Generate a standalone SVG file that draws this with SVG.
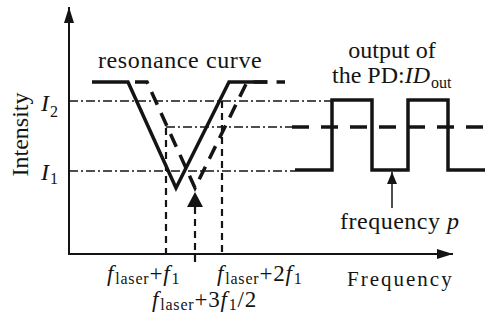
<svg xmlns="http://www.w3.org/2000/svg" width="485" height="325" viewBox="0 0 485 325">
<style>
.ln{fill:none;stroke:#141414;stroke-linejoin:miter}
.axis{stroke-width:2}
.solid{stroke-width:3.5}
.dash{stroke-width:3.5;stroke-dasharray:14 9}
.vdash{stroke-width:2.2;stroke-dasharray:7 5}
.dd{stroke-width:1.5;stroke-dasharray:9 3 2 3}
.thin{stroke-width:1.5}
.lbl{font-family:'Liberation Serif',serif;fill:#141414}
.t24{font-size:24px}
.t22{font-size:23px;letter-spacing:0.8px}
.it{font-style:italic}
.sub{font-size:16px;font-style:normal}
</style>
<defs>
<marker id="ah" viewBox="0 0 16 10" refX="16" refY="5" markerWidth="16" markerHeight="10" markerUnits="userSpaceOnUse" orient="auto">
<path d="M0,0 L16,5 L0,10 Z" fill="#141414"/>
</marker>
<marker id="ah2" viewBox="0 0 15 16" refX="15" refY="8" markerWidth="15" markerHeight="16" markerUnits="userSpaceOnUse" orient="auto">
<path d="M0,0 L15,8 L0,16 Z" fill="#141414"/>
</marker>
<marker id="ah3" viewBox="0 0 12 10" refX="12" refY="5" markerWidth="12" markerHeight="10" markerUnits="userSpaceOnUse" orient="auto">
<path d="M0,0 L12,5 L0,10 Z" fill="#141414"/>
</marker>
</defs>
<g id="guides">
<line class="ln dd" x1="69" y1="101" x2="332" y2="101"/>
<line class="ln dd" x1="69" y1="171" x2="295" y2="171"/>
<line class="ln dd" x1="166" y1="127" x2="292" y2="127"/>
<line class="ln dash" x1="292" y1="127" x2="485" y2="127" style="stroke-dasharray:17 12"/>
<line class="ln vdash" x1="166" y1="128" x2="166" y2="254"/>
<line class="ln vdash" x1="222" y1="101" x2="222" y2="254"/>
</g>
<g id="axes">
<line class="ln axis" x1="69" y1="254" x2="69" y2="7" marker-end="url(#ah)"/>
<line class="ln axis" x1="68" y1="254" x2="453" y2="254" marker-end="url(#ah)"/>
</g>
<g id="resonance-curve">
<polyline class="ln solid" points="92,82 128,82 176,188 229,82 267,82"/>
<polyline class="ln dash" points="135,82 147,82 195,188 247,82 285,82"/>
</g>
<g id="pd-output">
<polyline class="ln solid" points="295,170 332,170 332,100 372,100 372,170 408,170 408,100 448,100 448,170 485,170"/>
</g>
<g id="connectors">
<line class="ln vdash" x1="195" y1="262" x2="195" y2="192" marker-end="url(#ah2)"/>
<line class="ln thin" x1="392" y1="208" x2="392" y2="172" marker-end="url(#ah3)"/>
</g>
<g id="labels" font-family="Liberation Serif, serif">
<text class="lbl t24" transform="translate(28,134.5) rotate(-90)" text-anchor="middle">Intensity</text>
<text class="lbl t24 it" x="41" y="111">I<tspan class="sub" dx="1" dy="6">2</tspan></text>
<text class="lbl t24 it" x="41" y="180">I<tspan class="sub" dx="1" dy="4">1</tspan></text>
<text class="lbl t24" x="98" y="68" style="letter-spacing:0.6px">resonance curve</text>
<text class="lbl t24" x="392" y="58" text-anchor="middle">output of</text>
<text class="lbl t24" x="332" y="83">the PD:<tspan class="it">ID</tspan><tspan class="sub" dx="1" dy="5">out</tspan></text>
<text class="lbl t24" x="340" y="229" style="letter-spacing:0.5px">frequency <tspan class="it">p</tspan></text>
<text class="lbl" x="347" y="286" style="font-size:21px;letter-spacing:2px">Frequency</text>
<text class="lbl t22" x="107" y="281"><tspan class="it">f</tspan><tspan class="sub" dx="1" dy="3">laser</tspan><tspan dy="-3">+</tspan><tspan class="it">f</tspan><tspan class="sub" dx="1" dy="3">1</tspan></text>
<text class="lbl t22" x="217" y="281"><tspan class="it">f</tspan><tspan class="sub" dx="1" dy="3">laser</tspan><tspan dy="-3">+2</tspan><tspan class="it">f</tspan><tspan class="sub" dx="1" dy="3">1</tspan></text>
<text class="lbl t22" x="152" y="307"><tspan class="it">f</tspan><tspan class="sub" dx="1" dy="3">laser</tspan><tspan dy="-3">+3</tspan><tspan class="it">f</tspan><tspan class="sub" dx="1" dy="3">1</tspan><tspan dy="-3">/2</tspan></text>
</g>
</svg>
